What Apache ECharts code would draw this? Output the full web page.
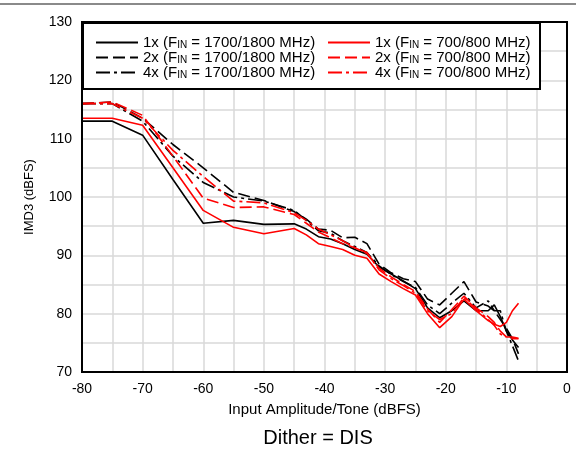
<!DOCTYPE html>
<html><head><meta charset="utf-8">
<script src="https://cdn.jsdelivr.net/npm/echarts@6/dist/echarts.min.js"></script>
<style>html,body{margin:0;padding:0;background:#fff}#c{width:576px;height:453px}</style>
</head><body><div id="c"></div>
<script>
// Input amplitude per tone (dBFS)
const xs = [-80,-75,-70,-65,-60,-55,-50,-45,-43,-41,-39,-37,-35,-33,-31,-29,-27,-25,-23,-21,-19,-17,-15,-13,-12,-11,-10,-9,-8];
// IMD3 (dBFS)
const b1x = [113,113,110.6,103,95.5,96,95.3,95.4,94.5,93.2,92.8,92,91,90.2,88,86.8,85.6,84.3,81,79.3,80.5,82.2,80.5,80.5,81.5,79.5,77,75.5,74.2];
const r1x = [113.5,113.5,112.3,105,97.7,94.8,93.7,94.6,93.5,92,91.5,91,90,89.5,86.8,85.5,84.3,83.2,80,77.6,79.5,82.5,80.5,78.8,78.2,77.8,78.5,80.5,81.8];
const b2x = [116,116.3,113.5,109,105,100.8,99.4,97.5,96.2,94.5,94.3,93,93.1,92,88.5,87,86,85.5,82.5,81.5,83.5,85.5,82,81.3,80.5,79,77.5,75.7,73.1];
const r2x = [116,116.3,114,107,99.8,98.2,98.3,97,95.5,94,93,92,91.3,90.3,87.8,86.3,85,83.8,80.8,78.5,80.7,83,81,79.5,78.5,77,76,75.7,75.7];
const b4x = [116,116,113,107,102.5,100,99.3,97.7,96,94.2,93.8,92.5,91.5,90.5,88.2,86.7,85.5,84.5,81.5,80,81.8,83.5,81,82.2,80.5,80.5,77,74.5,71.9];
const r4x = [116,116,113.5,108,103.5,99.3,99,97.3,96,94.5,93.5,92.5,91.3,90.5,87.5,86,84.8,83.5,80.5,79,80,82.8,80.8,79,78,76.5,76,76,75.8];
const names = ['1x (FIN = 1700/1800 MHz)','2x (FIN = 1700/1800 MHz)','4x (FIN = 1700/1800 MHz)',
               '1x (FIN = 700/800 MHz)','2x (FIN = 700/800 MHz)','4x (FIN = 700/800 MHz)'];
const xTicks = [-80,-70,-60,-50,-40,-30,-20,-10,0];
const yTicks = [70,80,90,100,110,120,130];

const FONT = 'Liberation Sans, Arial, sans-serif';
const pair = ys => xs.map((x,i)=>[x,ys[i]]);
const dashed = [12,5], dashdot = [14,4,3,4];
function mk(name, ys, color, type){
  return {name, type:'line', data: pair(ys), symbol:'none', smooth:false,
    lineStyle:{color, width:1.6, type}, itemStyle:{color}, z:5};
}
const series = [
  mk(names[0], b1x, '#000', 'solid'),
  mk(names[1], b2x, '#000', dashed),
  mk(names[2], b4x, '#000', dashdot),
  mk(names[3], r1x, '#ff0000', 'solid'),
  mk(names[4], r2x, '#ff0000', dashed),
  mk(names[5], r4x, '#ff0000', dashdot)
];
const legFmt = n => '{a|' + n.replace('FIN', 'F}{s|IN}{a|') + '}';
const legRich = {a:{fontSize:15, fontFamily:FONT, color:'#000', lineHeight:15, verticalAlign:'bottom'},
                 s:{fontSize:10, fontFamily:FONT, color:'#000', lineHeight:15, verticalAlign:'bottom', padding:[4,0,0,0]}};
const legBase = {orient:'vertical', top:30, itemWidth:42, itemHeight:12, itemGap:0, z:20,
  textStyle:{rich:legRich}, formatter:legFmt, selectedMode:false,
  itemStyle:{opacity:0}};

const chart = echarts.init(document.getElementById('c'), null, {renderer:'canvas'});
chart.setOption({
  animation:false,
  backgroundColor:'#fff',
  grid:{left:82, right:9, top:22, bottom:81, show:true, borderColor:'#000', borderWidth:2, z:6},
  xAxis:{type:'value', min:-80, max:0, interval:5,
    axisLine:{show:false}, axisTick:{show:false},
    splitLine:{show:true, lineStyle:{color:'#d9d9d9', width:1.5}},
    axisLabel:{color:'#000', fontSize:14, fontFamily:FONT, margin:10,
      formatter:v => xTicks.includes(v) ? String(v) : ''},
    name:'Input Amplitude/Tone (dBFS)', nameLocation:'middle', nameGap:30,
    nameTextStyle:{color:'#000', fontSize:15, fontFamily:FONT}},
  yAxis:{type:'value', min:70, max:130, interval:5,
    axisLine:{show:false}, axisTick:{show:false},
    splitLine:{show:true, lineStyle:{color:'#d9d9d9', width:1.5}},
    axisLabel:{color:'#000', fontSize:14, fontFamily:FONT, margin:10,
      formatter:v => yTicks.includes(v) ? String(v) : ''},
    name:'IMD3 (dBFS)', nameLocation:'middle', nameGap:46, nameRotate:90,
    nameTextStyle:{color:'#000', fontSize:13, fontFamily:FONT}},
  legend:[
    Object.assign({}, legBase, {left:90, data:names.slice(0,3)}),
    Object.assign({}, legBase, {left:322, data:names.slice(3)})
  ],
  graphic:[
    {type:'rect', shape:{x:83, y:23, width:457, height:66}, style:{fill:'#fff', stroke:'#000', lineWidth:2}, z:15},
    {type:'line', shape:{x1:0, y1:4, x2:576, y2:4}, style:{stroke:'#8a8a8a', lineWidth:2}, z:15},
    {type:'text', x:318, y:438, style:{text:'Dither = DIS', fontSize:20, fontFamily:FONT, fill:'#000', textAlign:'center', textVerticalAlign:'middle'}, z:15}
  ],
  series
});
</script></body></html>
